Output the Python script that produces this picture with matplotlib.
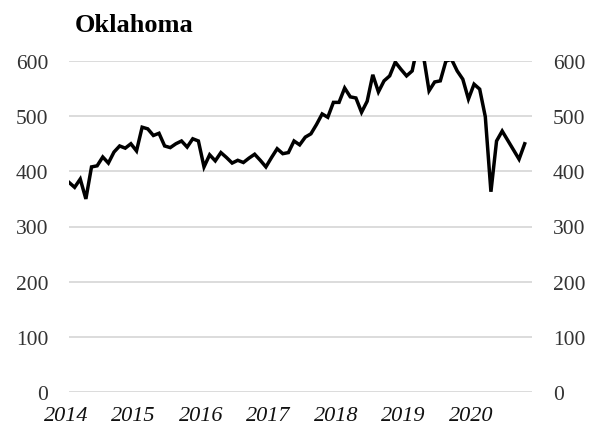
import numpy as np
import matplotlib
matplotlib.use('Agg')
import matplotlib.pyplot as plt
import matplotlib.transforms as mtransforms

# Monthly values, Jan 2014 - Nov 2020
values = [
    380, 371, 386, 350, 408, 410, 426, 415, 435, 446, 442, 450,   # 2014
    437, 480, 477, 465, 469, 446, 443, 450, 455, 444, 459, 455,   # 2015
    408, 430, 419, 434, 425, 415, 420, 416, 424, 431, 420, 408,   # 2016
    425, 441, 432, 434, 455, 448, 462, 468, 485, 504, 498, 525,   # 2017
    525, 551, 535, 533, 507, 527, 575, 544, 564, 573, 598, 585,   # 2018
    573, 582, 630, 610, 546, 562, 564, 600, 603, 582, 567, 531,   # 2019
    558, 549, 499, 363, 455, 473, 456, 439, 422, 450,             # 2020
]
years = ['2014', '2015', '2016', '2017', '2018', '2019', '2020']
yticks = [0, 100, 200, 300, 400, 500, 600]
title = 'Oklahoma'

plt.rcParams['font.family'] = ['Liberation Serif', 'DejaVu Serif']

fig = plt.figure(figsize=(5.91, 4.35), dpi=100)
ax = fig.add_axes([69 / 591, 1 - 393 / 435, 463 / 591, 331 / 435])

months = np.arange(len(values))
ax.plot(months, values, color='black', linewidth=2.5, solid_joinstyle='miter')

ax.set_ylim(0, 600)
ax.set_xlim(0, 82.3)
ax.set_yticks(yticks)
ax.yaxis.grid(True, color='#d9d9d9', linewidth=1.3)
ax.set_axisbelow(True)
for s in ax.spines.values():
    s.set_visible(False)

ax.tick_params(axis='y', length=0, labelsize=15.5, pad=15,
               labelcolor='#333333', labelright=True, right=False)

ax.set_xticks(np.arange(len(years)) * 12)
ax.set_xticklabels(years, fontstyle='italic', fontsize=16, color='#111111')
ax.tick_params(axis='x', length=0, pad=10)
shift = mtransforms.ScaledTranslation(-3 / 100, 0, fig.dpi_scale_trans)
for lab in ax.get_xticklabels():
    lab.set_transform(lab.get_transform() + shift)

fig.text(75 / 591, 1 - 26 / 435, title, fontsize=19, fontweight='bold',
         ha='left', va='center')

plt.savefig('out.png', dpi=100)
